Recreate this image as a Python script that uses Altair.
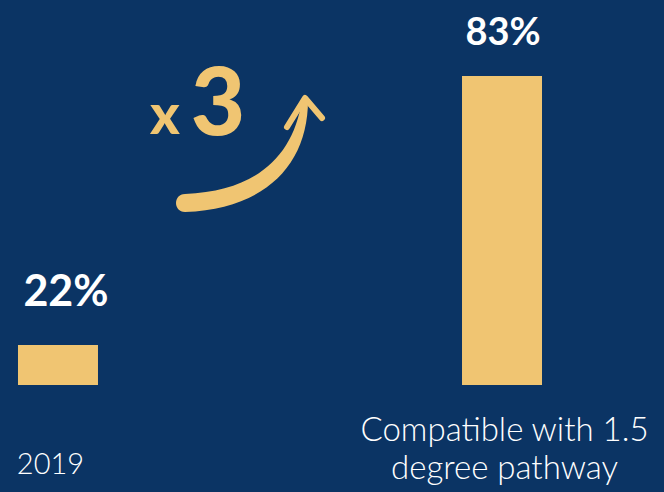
import altair as alt
import pandas as pd

# ---- data ----
categories = ["2019", "Compatible with 1.5\ndegree pathway"]
values = [22, 83]
value_labels = ["22%", "83%"]
multiplier_x = ["x"]
multiplier_n = ["3"]
axis_floor = 12.9      # value at which the bars start (the picture's axis does not start at 0)
axis_ceiling = 100.25

BG = "#0b3464"
GOLD = "#f0c572"

df = pd.DataFrame({"cat": categories, "value": values, "label": value_labels})

x_enc = alt.X(
    "cat:N",
    sort=categories,
    scale=alt.Scale(type="point", padding=0.1306),
    axis=alt.Axis(
        title=None,
        domain=False,
        ticks=False,
        labelAngle=0,
        labelColor="white",
        labelFont="Lato",
        labelFontWeight=300,
        labelLimit=500,
        labelOverlap=False,
        labelLineHeight=38,
        labelBaseline="alphabetic",
        labelExpr="split(datum.label, '\\n')",
        labelFontSize={"condition": {"test": "datum.value == '2019'", "value": 29}, "value": 33},
        labelOffset={"condition": {"test": "datum.value == '2019'", "value": -8}, "value": 2},
        labelPadding={"condition": {"test": "datum.value == '2019'", "value": 88}, "value": 55},
    ),
)
y_enc = alt.Y("value:Q", scale=alt.Scale(domain=[axis_floor, axis_ceiling], zero=False, nice=False), axis=None)

base = alt.Chart(df)

bars = base.mark_bar(size=80, color=GOLD).encode(x=x_enc, y=y_enc, y2=alt.datum(axis_floor))

lab1 = base.transform_filter(alt.datum.cat == "2019").mark_text(
    font="Lato", fontWeight="bold", fontSize=43, color="white", dy=-39, dx=8, baseline="alphabetic"
).encode(x=alt.X("cat:N", sort=categories), y="value:Q", text="label:N")

lab2 = base.transform_filter(alt.datum.cat != "2019").mark_text(
    font="Lato", fontWeight="bold", fontSize=38, color="white", dy=-31, dx=1, baseline="alphabetic"
).encode(x=alt.X("cat:N", sort=categories), y="value:Q", text="label:N")

# ---- annotation: x 3 with curved arrow ----
ann_x = alt.Chart(pd.DataFrame({"t": multiplier_x})).mark_text(
    font="Lato", fontWeight=900, fontSize=56, color=GOLD, align="center", baseline="alphabetic"
).encode(x=alt.value(165), y=alt.value(134), text="t:N")

ann_n = alt.Chart(pd.DataFrame({"t": multiplier_n})).mark_text(
    font="Lato", fontWeight=900, fontSize=94, color=GOLD, align="center", baseline="alphabetic"
).encode(x=alt.value(218), y=alt.value(135), text="t:N")

body_path = (
    "M -60 39 C 10 36 48 3 57 -55 L 63 -55 "
    "C 63 10 20 54 -60 57 C -72 57 -72 39 -60 39 Z"
)
head_path = "M 42 -28 L 60 -57 L 77 -37"

arrow_body = alt.Chart(pd.DataFrame({"t": multiplier_n})).mark_point(
    shape=body_path, size=4, filled=True, fill=GOLD, strokeWidth=0, opacity=1
).encode(x=alt.value(245), y=alt.value(155))

arrow_head = alt.Chart(pd.DataFrame({"t": multiplier_n})).mark_point(
    shape=head_path, size=4, filled=False, stroke=GOLD, strokeWidth=6,
    strokeCap="round", strokeJoin="round", opacity=1
).encode(x=alt.value(245), y=alt.value(155))

chart = alt.layer(bars, lab1, lab2, arrow_body, arrow_head, ann_x, ann_n).properties(
    width=560,
    height=385,
    background=BG,
    autosize="none",
    padding={"left": 0, "top": 0, "right": 104, "bottom": 107},
).configure_view(stroke=None)

chart.save("out.html", embed_options={"renderer": "svg", "actions": False})
